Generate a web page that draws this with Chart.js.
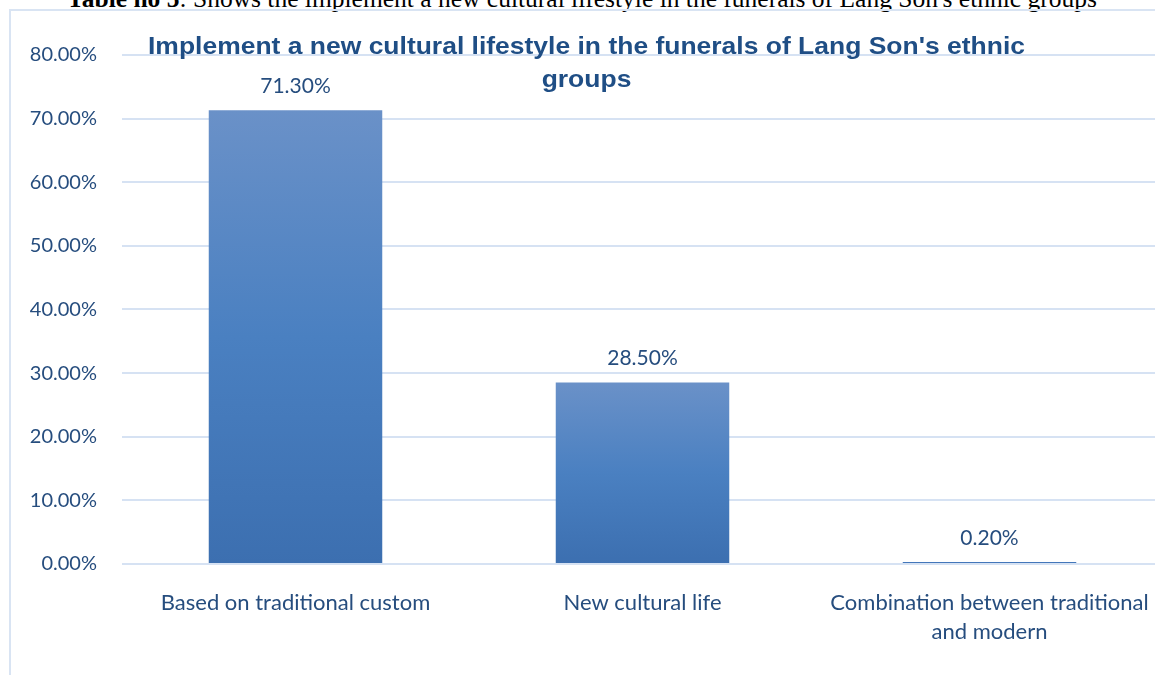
<!DOCTYPE html>
<html>
<head>
<meta charset="utf-8">
<script src="https://cdn.jsdelivr.net/npm/chart.js@4/dist/chart.umd.min.js"></script>
<style>
  html, body { margin: 0; padding: 0; background: #fff; width: 1155px; height: 675px; overflow: hidden; position: relative; }
  #frame { position: absolute; left: 9px; top: 9px; width: 1200px; height: 720px; border: 2px solid #D9E4F3; box-sizing: border-box; }
  #caption { position: absolute; left: 0; width: 1164px; top: -15px; text-align: center; font-family: "Liberation Serif", "DejaVu Serif", serif; font-size: 25.5px; color: #000; white-space: nowrap; line-height: 28px; }
  #wrap { position: absolute; left: 0; top: 0; width: 1175px; height: 675px; }
</style>
</head>
<body>
<div id="caption"><b>Table no 5</b>: Shows the implement a new cultural lifestyle in the funerals of Lang Son's ethnic groups</div>
<div id="frame"></div>
<div id="wrap"><canvas id="c" width="1175" height="675"></canvas></div>
<script>
const chartTitle = ["Implement a new cultural lifestyle in the funerals of Lang Son's ethnic", "groups"];
const categories = ["Based on traditional custom", "New cultural life", ["Combination between traditional", "and modern"]];
const values = [71.3, 28.5, 0.2];
const yTicks = [0, 10, 20, 30, 40, 50, 60, 70, 80];

const textColor = '#264D7E';
const titleColor = '#1F4E85';

function barFill(ctx) {
  const chart = ctx.chart;
  if (!chart.chartArea || ctx.raw === undefined) return '#4A7FC0';
  const ys = chart.scales.y;
  const top = ys.getPixelForValue(ctx.raw);
  const bot = ys.getPixelForValue(0);
  if (bot - top < 3) return '#4377BA';
  const g = chart.ctx.createLinearGradient(0, top, 0, bot);
  g.addColorStop(0, '#6A91C8');
  g.addColorStop(0.5, '#4A80C1');
  g.addColorStop(1, '#3C6FB0');
  return g;
}

const valueLabels = {
  id: 'valueLabels',
  afterDatasetsDraw(chart) {
    const c = chart.ctx;
    const meta = chart.getDatasetMeta(0);
    const ys = chart.scales.y;
    c.save();
    c.font = '21px Lato';
    c.fillStyle = textColor;
    c.textAlign = 'center';
    c.textBaseline = 'middle';
    meta.data.forEach((bar, i) => {
      c.fillText(values[i].toFixed(2) + '%', bar.x, ys.getPixelForValue(values[i]) - 24);
    });
    c.restore();
  }
};

const overlayTitle = {
  id: 'overlayTitle',
  afterDraw(chart) {
    const c = chart.ctx;
    c.save();
    c.font = 'bold 24px "Liberation Sans", Arial, sans-serif';
    c.fillStyle = titleColor;
    c.textAlign = 'center';
    c.textBaseline = 'alphabetic';
    const w = c.measureText(chartTitle[0]).width;
    const sx = 877 / w;
    c.translate(586.5, 0);
    c.scale(sx, 1);
    c.fillText(chartTitle[0], 0, 54);
    c.fillText(chartTitle[1], 0, 87);
    c.restore();
  }
};

new Chart(document.getElementById('c'), {
  type: 'bar',
  data: {
    labels: categories,
    datasets: [{
      data: values,
      backgroundColor: barFill,
      borderWidth: 0,
      barPercentage: 0.50,
      categoryPercentage: 1.0,
      minBarLength: 2
    }]
  },
  options: {
    responsive: false,
    animation: false,
    devicePixelRatio: 1,
    layout: { padding: { top: 55, left: 0, right: 12, bottom: 5 } },
    plugins: {
      legend: { display: false },
      tooltip: { enabled: false },
      title: { display: false }
    },
    scales: {
      x: {
        grid: { display: false, drawTicks: false },
        border: { display: false },
        ticks: {
          color: textColor,
          font: { family: 'Lato', size: 22, lineHeight: 1.32 },
          padding: 24,
          maxRotation: 0,
          autoSkip: false
        }
      },
      y: {
        min: 0,
        max: 80,
        afterBuildTicks(axis) { axis.ticks = yTicks.map(v => ({ value: v })); },
        afterFit(axis) { axis.width = 122; },
        grid: { color: '#D6E2F3', lineWidth: 2, drawTicks: false },
        border: { display: false },
        ticks: {
          color: textColor,
          font: { family: 'Lato', size: 20 },
          padding: 25,
          callback: v => v.toFixed(2) + '%'
        }
      }
    }
  },
  plugins: [valueLabels, overlayTitle]
});
</script>
</body>
</html>
